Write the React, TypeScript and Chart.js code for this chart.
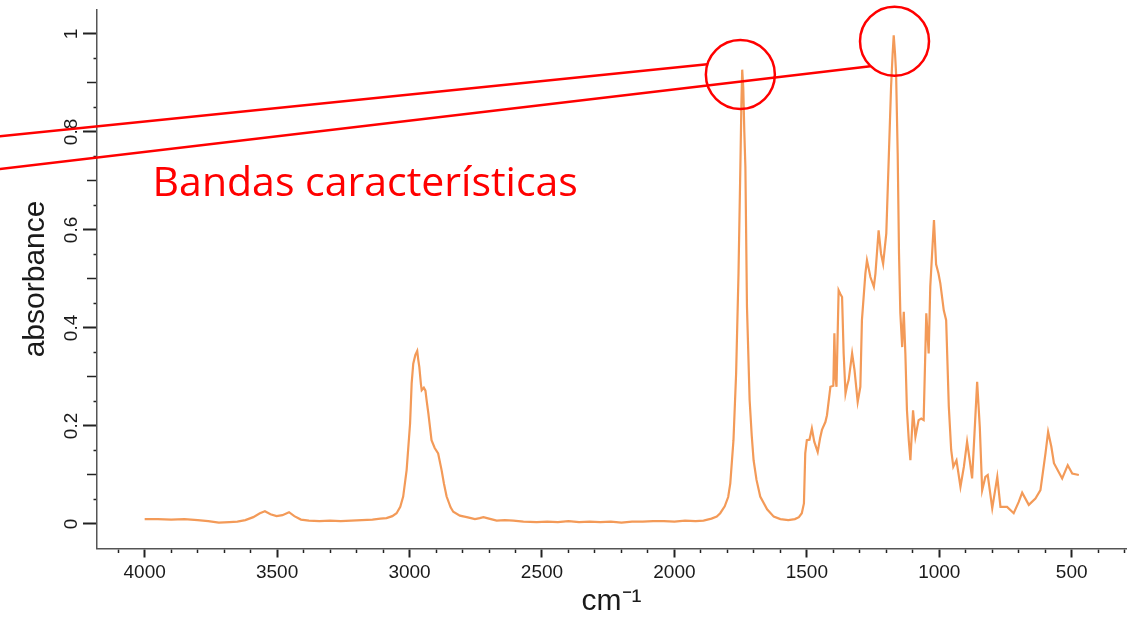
import React, { useEffect, useRef } from "react";
import { Chart, registerables } from "chart.js";

Chart.register(...registerables);

// Wavenumbers (cm^-1) and absorbance
const wavenumbers: number[] = [
  4000, 3950, 3900, 3850, 3800, 3760, 3720, 3680, 3650, 3620, 3590, 3565, 3546, 3525, 3502, 3480, 3455, 3435, 3410, 3380,
  3340, 3300, 3260, 3220, 3180, 3140, 3110, 3087, 3065, 3049, 3035, 3024, 3011, 2998, 2992, 2986, 2978, 2971, 2967, 2963,
  2957, 2954, 2946, 2940, 2935, 2929, 2917, 2905, 2892, 2879, 2870, 2860, 2845, 2835, 2810, 2784, 2753, 2735, 2721, 2700,
  2671, 2640, 2608, 2570, 2520, 2480, 2440, 2400, 2360, 2320, 2280, 2240, 2200, 2160, 2120, 2080, 2040, 2000, 1960, 1920,
  1890, 1860, 1840, 1827, 1810, 1797, 1789, 1777, 1767, 1758, 1751, 1747, 1744, 1740, 1736, 1732, 1726, 1716, 1708, 1701,
  1690, 1676, 1650, 1625, 1600, 1570, 1545, 1530, 1519, 1511, 1506, 1500, 1490, 1481, 1472, 1459, 1450, 1443, 1430, 1424,
  1411, 1400, 1396, 1392, 1388, 1380, 1374, 1367, 1361, 1354, 1348, 1342, 1329, 1320, 1308, 1298, 1292, 1279, 1273, 1266,
  1260, 1247, 1241, 1229, 1220, 1212, 1200, 1191, 1182, 1176, 1172, 1167, 1163, 1157, 1152, 1147, 1140, 1134, 1128, 1122,
  1115, 1109, 1099, 1090, 1078, 1068, 1059, 1049, 1040, 1034, 1020, 1012, 1003, 996, 983, 974, 964, 955, 947, 935,
  920, 907, 895, 885, 876, 867, 857, 847, 838, 826, 817, 800, 781, 769, 744, 719, 700, 687, 662, 637,
  618, 599, 589, 577, 567, 536, 515, 498, 473,
];

const absorbance: number[] = [
  0.010, 0.010, 0.009, 0.010, 0.008, 0.006, 0.003, 0.004, 0.005, 0.008, 0.014, 0.022, 0.026, 0.020, 0.016, 0.018, 0.024, 0.016, 0.009, 0.007,
  0.006, 0.007, 0.006, 0.007, 0.008, 0.009, 0.011, 0.012, 0.016, 0.022, 0.035, 0.056, 0.110, 0.205, 0.287, 0.327, 0.345, 0.353, 0.335, 0.320,
  0.285, 0.273, 0.278, 0.272, 0.250, 0.226, 0.171, 0.155, 0.144, 0.110, 0.082, 0.056, 0.034, 0.025, 0.017, 0.014, 0.010, 0.012, 0.014, 0.011,
  0.007, 0.008, 0.007, 0.005, 0.004, 0.005, 0.004, 0.006, 0.004, 0.005, 0.004, 0.005, 0.003, 0.005, 0.005, 0.006, 0.006, 0.005, 0.007, 0.006,
  0.007, 0.011, 0.015, 0.022, 0.036, 0.055, 0.083, 0.171, 0.307, 0.511, 0.728, 0.860, 0.927, 0.890, 0.800, 0.728, 0.443, 0.253, 0.180, 0.130,
  0.090, 0.056, 0.030, 0.015, 0.010, 0.008, 0.010, 0.014, 0.022, 0.042, 0.144, 0.171, 0.172, 0.195, 0.168, 0.147, 0.175, 0.192, 0.208, 0.222,
  0.280, 0.282, 0.389, 0.300, 0.280, 0.477, 0.470, 0.463, 0.348, 0.266, 0.282, 0.294, 0.348, 0.314, 0.249, 0.280, 0.416, 0.511, 0.538, 0.520,
  0.504, 0.484, 0.511, 0.599, 0.552, 0.531, 0.593, 0.742, 0.892, 0.960, 0.997, 0.960, 0.919, 0.756, 0.552, 0.430, 0.361, 0.433, 0.348, 0.232,
  0.170, 0.130, 0.232, 0.178, 0.212, 0.215, 0.212, 0.430, 0.348, 0.484, 0.620, 0.530, 0.511, 0.491, 0.436, 0.416, 0.240, 0.151, 0.117, 0.130,
  0.076, 0.117, 0.168, 0.130, 0.093, 0.185, 0.290, 0.198, 0.069, 0.096, 0.100, 0.032, 0.096, 0.035, 0.035, 0.022, 0.045, 0.064, 0.039, 0.052,
  0.069, 0.144, 0.188, 0.158, 0.124, 0.093, 0.120, 0.103, 0.100,
];

// Axis ranges / tick steps
const xRange = { min: 295, max: 4180 };
const yRange = { min: -0.05, max: 1.05 };
const yVisibleTicks = { min: 0, max: 1 };
const xMajorStep = 500;
const xMinorStep = 100;
const yMajorStep = 0.2;
const yMidStep = 0.1;
const yMinorStep = 0.05;

const xTitle = "cm\u207B\u00B9";
const yTitle = "absorbance";

// Annotations (anchored in data coordinates)
const annotationText = "Bandas características";
const annotationTextAnchor = { x: 3970, y: 0.669 };
const highlightCircles = [
  { x: 1751, y: 0.917 },
  { x: 1169, y: 0.985 },
];
const pointerLines = [
  { from: { x: 4548, y: 0.791 }, to: { x: 1876, y: 0.938 } },
  { from: { x: 4548, y: 0.724 }, to: { x: 1260, y: 0.934 } },
];

const RED = "#FF0000";
const LINE_COLOR = "#F39A58";
const AXIS_COLOR = "#555555";
const TICK_COLOR = "#222222";
const TEXT_COLOR = "#1a1a1a";
const FONT = "'Liberation Sans', Arial, sans-serif";

const isMultiple = (v: number, step: number) => Math.abs(v / step - Math.round(v / step)) < 1e-6;

const annotationPlugin = {
  id: "bandasAnnotation",
  afterDatasetsDraw(chart: any) {
    const { ctx, scales } = chart;
    const xs = scales.x;
    const ys = scales.y;
    ctx.save();
    ctx.strokeStyle = RED;
    ctx.lineWidth = 2.5;
    for (const l of pointerLines) {
      ctx.beginPath();
      ctx.moveTo(xs.getPixelForValue(l.from.x), ys.getPixelForValue(l.from.y));
      ctx.lineTo(xs.getPixelForValue(l.to.x), ys.getPixelForValue(l.to.y));
      ctx.stroke();
    }
    for (const c of highlightCircles) {
      ctx.beginPath();
      ctx.arc(xs.getPixelForValue(c.x), ys.getPixelForValue(c.y), 34.5, 0, Math.PI * 2);
      ctx.stroke();
    }
    ctx.fillStyle = RED;
    ctx.font = "41px 'Open Sans', sans-serif";
    ctx.textAlign = "left";
    ctx.textBaseline = "alphabetic";
    ctx.fillText(
      annotationText,
      xs.getPixelForValue(annotationTextAnchor.x),
      ys.getPixelForValue(annotationTextAnchor.y)
    );
    ctx.restore();
  },
};

export default function App() {
  const canvasRef = useRef<HTMLCanvasElement | null>(null);

  useEffect(() => {
    document.body.style.margin = "0";
    const canvas = canvasRef.current;
    if (!canvas) return;

    const points = wavenumbers.map((x, i) => ({ x, y: absorbance[i] }));

    const chart = new Chart(canvas, {
      type: "scatter",
      data: {
        datasets: [
          {
            data: points,
            showLine: true,
            borderColor: LINE_COLOR,
            backgroundColor: LINE_COLOR,
            borderWidth: 2.2,
            pointRadius: 0,
            tension: 0,
            fill: false,
          },
        ],
      },
      options: {
        animation: false,
        responsive: false,
        layout: { padding: { top: 9, right: 6, left: 0, bottom: 0 } },
        plugins: {
          legend: { display: false },
          tooltip: { enabled: false },
        },
        scales: {
          x: {
            type: "linear",
            reverse: true,
            min: xRange.min,
            max: xRange.max,
            border: { display: true, color: AXIS_COLOR, width: 1.5 },
            grid: {
              display: true,
              drawOnChartArea: false,
              drawTicks: true,
              tickLength: 9,
              tickColor: TICK_COLOR,
              tickWidth: (ctx: any) => (isMultiple(ctx.tick?.value ?? 1, xMajorStep) ? 2 : 1.5),
              tickBorderDash: (ctx: any) => (isMultiple(ctx.tick?.value ?? 1, xMajorStep) ? [] : [3.5, 100]),
            },
            ticks: {
              stepSize: xMinorStep,
              autoSkip: false,
              includeBounds: false,
              minRotation: 0,
              maxRotation: 0,
              padding: 4,
              color: TEXT_COLOR,
              font: { family: FONT, size: 19 },
              callback: (v: any) => (isMultiple(Number(v), xMajorStep) ? String(Math.round(Number(v))) : ""),
            },
            title: {
              display: true,
              text: xTitle,
              color: TEXT_COLOR,
              font: { family: FONT, size: 30 },
              padding: { top: 0, bottom: 0 },
            },
            afterFit: (s: any) => {
              s.height = 71.5;
            },
          },
          y: {
            type: "linear",
            min: yRange.min,
            max: yRange.max,
            border: { display: true, color: AXIS_COLOR, width: 1.5 },
            grid: {
              display: true,
              drawOnChartArea: false,
              drawTicks: true,
              tickLength: 14,
              tickColor: TICK_COLOR,
              tickWidth: (ctx: any) => (isMultiple(ctx.tick?.value ?? 1, yMajorStep) ? 2 : 1.5),
              tickBorderDash: (ctx: any) => {
                const v = ctx.tick?.value ?? 0;
                if (v < yVisibleTicks.min - 1e-9 || v > yVisibleTicks.max + 1e-9) return [0, 100];
                if (isMultiple(v, yMajorStep)) return [];
                if (isMultiple(v, yMidStep)) return [0, 4, 10, 100];
                return [0, 10.5, 3.5, 100];
              },
            },
            ticks: {
              stepSize: yMinorStep,
              autoSkip: false,
              includeBounds: false,
              minRotation: 90,
              maxRotation: 90,
              crossAlign: "center",
              padding: -2,
              color: TEXT_COLOR,
              font: { family: FONT, size: 19 },
              callback: (v: any) => {
                const n = Number(v);
                if (n < yVisibleTicks.min - 1e-9 || n > yVisibleTicks.max + 1e-9) return "";
                return isMultiple(n, yMajorStep) ? String(Math.round(n * 10) / 10) : "";
              },
            },
            title: {
              display: true,
              text: yTitle,
              color: TEXT_COLOR,
              font: { family: FONT, size: 30 },
              padding: { top: 18, bottom: 0 },
            },
            afterFit: (s: any) => {
              s.width = 97;
            },
          },
        },
      },
      plugins: [annotationPlugin],
    } as any);

    return () => {
      chart.destroy();
    };
  }, []);

  return (
    <div style={{ position: "fixed", left: 0, top: 0, width: 1132, height: 620, background: "#fff" }}>
      <canvas ref={canvasRef} width={1132} height={620} style={{ display: "block" }} />
    </div>
  );
}
